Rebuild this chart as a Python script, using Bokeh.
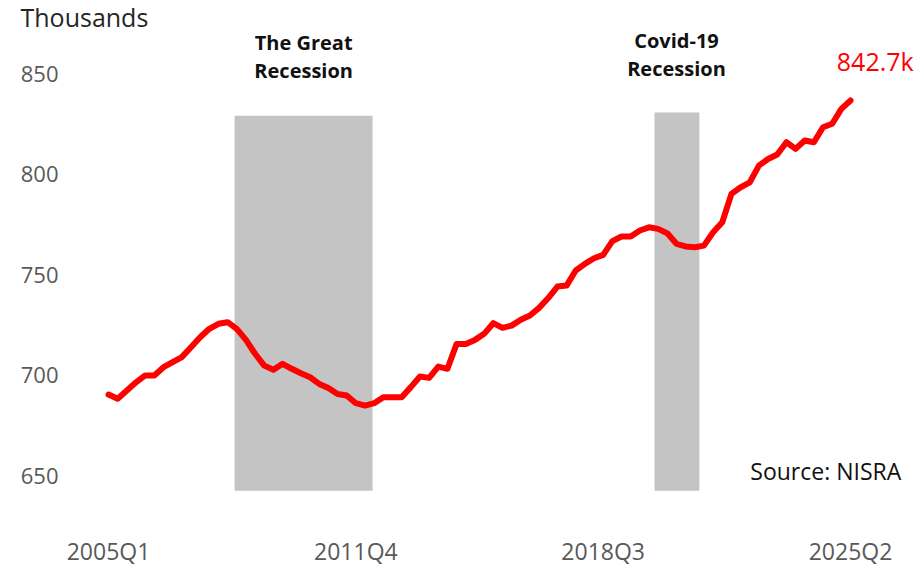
from bokeh.plotting import figure
from bokeh.models import Range1d, FixedTicker, Label
from bokeh.embed import file_html
from bokeh.resources import INLINE

# ---- data ----
first_year = 2005
n_quarters = 82
quarters = [f"{first_year + k // 4}Q{k % 4 + 1}" for k in range(n_quarters)]
employees = [
    690.3, 688.2, 692.3, 696.4, 699.8, 699.8, 703.9, 706.4, 708.9, 713.8,
    718.8, 723.0, 725.5, 726.3, 723.0, 717.5, 710.6, 704.7, 702.6, 705.6,
    703.1, 700.9, 698.9, 695.6, 693.6, 690.6, 689.8, 686.0, 684.8, 686.0,
    689.0, 689.0, 689.0, 694.0, 699.3, 698.6, 704.2, 703.1, 715.5, 715.5,
    717.5, 720.5, 725.8, 723.5, 724.6, 727.5, 729.6, 733.4, 738.3, 744.0,
    744.5, 752.0, 755.3, 758.1, 759.8, 766.6, 768.9, 768.9, 771.9, 773.5,
    772.7, 770.5, 765.3, 764.0, 763.6, 764.4, 771.0, 776.0, 790.1, 793.4,
    795.9, 804.2, 807.5, 809.7, 815.8, 812.5, 816.7, 815.8, 823.3, 825.0,
    832.4, 836.6,
]
tick_labels = ["2005Q1", "2011Q4", "2018Q3", "2025Q2"]
y_ticks = [650, 700, 750, 800, 850]
unit_label = "Thousands"
recession_names = [["The Great", "Recession"], ["Covid-19", "Recession"]]
recession_start = [13.76, 59.6]
recession_end = [28.82, 64.5]
recession_top = [829.0, 830.6]
recession_bottom = [642.5, 642.5]
latest_label = "842.7k"
source_text = "Source: NISRA"

FONT = "Open Sans"
x_idx = list(range(n_quarters))
tick_pos = [quarters.index(t) for t in tick_labels]

p = figure(frame_width=838, frame_height=469, output_backend="svg",
           toolbar_location=None,
           x_range=Range1d(-3.06, 88.42), y_range=Range1d(637.6, 870.9),
           min_border_left=80, min_border_right=0, min_border_top=0,
           min_border_bottom=0, title=unit_label)
p.outline_line_color = None
p.grid.visible = False
p.background_fill_color = "white"

p.title.align = "left"
p.title.offset = -60
p.title.standoff = -5
p.title.text_font = FONT
p.title.text_font_style = "normal"
p.title.text_font_size = "25px"
p.title.text_color = "#262626"

p.quad(left=recession_start, right=recession_end, top=recession_top,
       bottom=recession_bottom, fill_color="#c4c4c4", line_color=None)

p.line(x_idx, employees, line_color="#ff0000", line_width=6,
       line_join="round", line_cap="round")

for ax in (p.xaxis[0], p.yaxis[0]):
    ax.axis_line_color = None
    ax.major_tick_line_color = None
    ax.minor_tick_line_color = None
    ax.major_tick_out = 0
    ax.major_tick_in = 0
    ax.major_label_text_font = FONT
    ax.major_label_text_color = "#595959"

p.xaxis.major_label_text_font_size = "23px"
p.yaxis.major_label_text_font_size = "22px"
p.xaxis.ticker = FixedTicker(ticks=tick_pos)
p.xaxis.major_label_overrides = {pos: lab for pos, lab in zip(tick_pos, tick_labels)}
p.xaxis.major_label_standoff = 34
p.yaxis.ticker = FixedTicker(ticks=y_ticks)
p.yaxis.major_label_standoff = 22

name_x = [21.3, 62.0]
name_y = [[865.4, 851.5], [866.4, 852.5]]
for k, names in enumerate(recession_names):
    for j, line in enumerate(names):
        p.add_layout(Label(x=name_x[k], y=name_y[k][j], text=line,
                           text_font=FONT, text_font_style="bold",
                           text_font_size="20px", text_color="#111111",
                           text_align="center", text_baseline="middle"))

p.add_layout(Label(x=83.7, y=856.0, text=latest_label, text_font=FONT,
                   text_font_size="25px", text_color="#ff0000",
                   text_align="center", text_baseline="middle"))
p.add_layout(Label(x=78.3, y=652.5, text=source_text, text_font=FONT,
                   text_font_size="23px", text_color="#111111",
                   text_align="center", text_baseline="middle"))

open("out.html", "w").write(file_html(p, INLINE))
